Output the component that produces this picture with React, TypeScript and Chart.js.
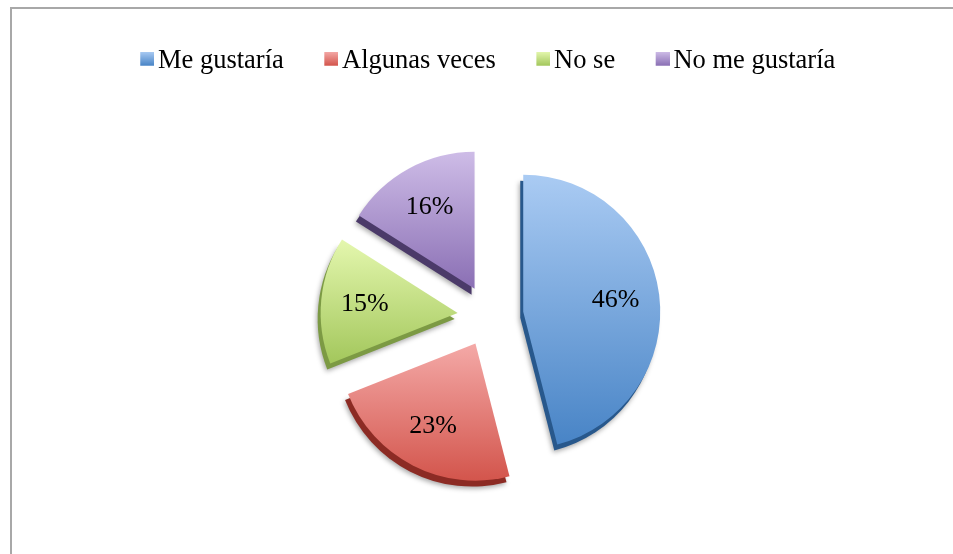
import React, { useEffect, useRef } from "react";
import { Chart, registerables } from "chart.js";

Chart.register(...registerables);

// ---- data ----
const categories = ["Me gustaría", "Algunas veces", "No se", "No me gustaría"];
const percentages = [46, 23, 15, 16];
const valueLabels = ["46%", "23%", "15%", "16%"];

// ---- styles ----
const topColors = ["#aacbf3", "#f4a9a7", "#e4f7ae", "#cebce7"];
const bottomColors = ["#4884c6", "#d3554c", "#a3c75c", "#8a6fb4"];
const sideColors = ["#28588c", "#8c2b24", "#7c9a44", "#4b3a69"];
const explodeOffsets = [34, 31, 32, 31];
const SERIF = "'Liberation Serif', 'Times New Roman', serif";
const PIE_RADIUS = 137;
const SIDE_DX = -3;
const SIDE_DY = 6;

function makeSwatch(top: string, bottom: string): HTMLCanvasElement {
  const c = document.createElement("canvas");
  c.width = 20;
  c.height = 18;
  const g = c.getContext("2d")!;
  const grad = g.createLinearGradient(0, 0, 0, 14);
  grad.addColorStop(0, top);
  grad.addColorStop(1, bottom);
  g.fillStyle = grad;
  g.fillRect(6, 0, 14, 14);
  return c;
}

function sectorBounds(arc: any) {
  const { x, y, startAngle, endAngle, outerRadius } = arc;
  let minY = y;
  let maxY = y;
  const n = 40;
  for (let k = 0; k <= n; k++) {
    const a = startAngle + ((endAngle - startAngle) * k) / n;
    const py = y + Math.sin(a) * outerRadius;
    if (py < minY) minY = py;
    if (py > maxY) maxY = py;
  }
  return { minY, maxY };
}

const explodePlugin = {
  id: "explodeSlices",
  afterDatasetsUpdate(chart: any) {
    const meta = chart.getDatasetMeta(0);
    meta.data.forEach((arc: any, i: number) => {
      const mid = (arc.startAngle + arc.endAngle) / 2;
      arc.x += Math.cos(mid) * explodeOffsets[i];
      arc.y += Math.sin(mid) * explodeOffsets[i];
    });
  },
  beforeDatasetsDraw(chart: any) {
    const ctx = chart.ctx as CanvasRenderingContext2D;
    const meta = chart.getDatasetMeta(0);
    meta.data.forEach((arc: any, i: number) => {
      // gradient face
      const { minY, maxY } = sectorBounds(arc);
      const grad = ctx.createLinearGradient(0, minY, 0, maxY);
      grad.addColorStop(0, topColors[i]);
      grad.addColorStop(1, bottomColors[i]);
      arc.options = { ...arc.options, backgroundColor: grad };
      // 3D side / thickness
      ctx.save();
      ctx.shadowColor = "rgba(0,0,0,0.35)";
      ctx.shadowBlur = 5;
      ctx.shadowOffsetX = -1;
      ctx.shadowOffsetY = 2;
      ctx.translate(SIDE_DX, SIDE_DY);
      ctx.beginPath();
      ctx.moveTo(arc.x, arc.y);
      ctx.arc(arc.x, arc.y, arc.outerRadius, arc.startAngle, arc.endAngle);
      ctx.closePath();
      ctx.fillStyle = sideColors[i];
      ctx.fill();
      ctx.restore();
    });
  },
  afterDatasetsDraw(chart: any) {
    const ctx = chart.ctx as CanvasRenderingContext2D;
    const meta = chart.getDatasetMeta(0);
    ctx.save();
    ctx.font = `26px ${SERIF}`;
    ctx.fillStyle = "#000";
    ctx.textAlign = "center";
    ctx.textBaseline = "middle";
    meta.data.forEach((arc: any, i: number) => {
      const mid = (arc.startAngle + arc.endAngle) / 2;
      const r = arc.outerRadius * 0.68;
      ctx.fillText(valueLabels[i], arc.x + Math.cos(mid) * r, arc.y + Math.sin(mid) * r);
    });
    ctx.restore();
  },
};

export default function App() {
  const canvasRef = useRef<HTMLCanvasElement | null>(null);

  useEffect(() => {
    const canvas = canvasRef.current;
    if (!canvas) return;
    const swatches = categories.map((_, i) => makeSwatch(topColors[i], bottomColors[i]));
    const chart = new Chart(canvas, {
      type: "pie",
      data: {
        labels: categories,
        datasets: [
          {
            data: percentages,
            backgroundColor: bottomColors.slice(),
            borderWidth: 0,
            radius: PIE_RADIUS,
          } as any,
        ],
      },
      options: {
        animation: false,
        responsive: false,
        maintainAspectRatio: false,
        devicePixelRatio: 1,
        events: [],
        layout: { padding: { left: 26, right: 0, top: 3.5, bottom: 6 } },
        plugins: {
          tooltip: { enabled: false },
          legend: {
            display: true,
            position: "top",
            align: "center",
            labels: {
              usePointStyle: true,
              pointStyleWidth: 1,
              padding: 44,
              color: "#000",
              font: { family: SERIF, size: 26.5 },
              generateLabels: () =>
                categories.map((c, i) => ({
                  text: c,
                  fillStyle: bottomColors[i],
                  strokeStyle: "rgba(0,0,0,0)",
                  lineWidth: 0,
                  pointStyle: swatches[i] as any,
                  hidden: false,
                  index: i,
                  datasetIndex: 0,
                })),
            },
          },
        },
      } as any,
      plugins: [explodePlugin],
    });
    return () => chart.destroy();
  }, []);

  return (
    <div
      style={{
        position: "fixed",
        left: 0,
        top: 0,
        width: 953,
        height: 554,
        overflow: "hidden",
        background: "#fff",
      }}
    >
      <div
        style={{
          position: "absolute",
          left: 10,
          top: 7,
          width: 1000,
          height: 700,
          border: "2px solid #a8a8a8",
          boxSizing: "border-box",
        }}
      />
      <canvas
        ref={canvasRef}
        width={953}
        height={554}
        style={{ position: "absolute", left: 0, top: 0, width: 953, height: 554 }}
      />
    </div>
  );
}
